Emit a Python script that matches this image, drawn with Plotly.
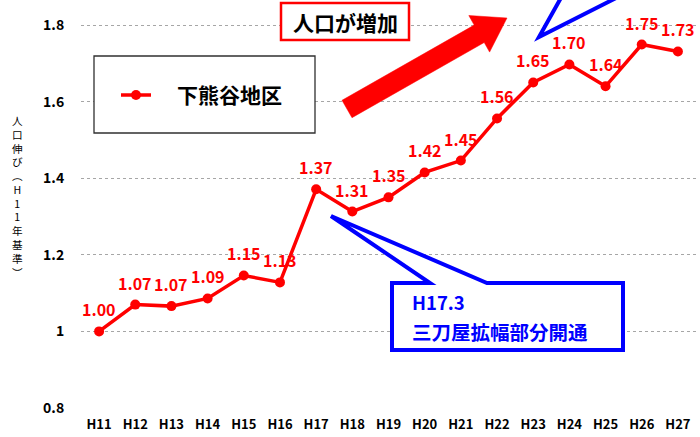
import plotly.graph_objects as go

years = ["H11", "H12", "H13", "H14", "H15", "H16", "H17", "H18", "H19",
         "H20", "H21", "H22", "H23", "H24", "H25", "H26", "H27"]
values = [1.000, 1.070, 1.066, 1.086, 1.146, 1.128, 1.371, 1.313, 1.350,
          1.415, 1.446, 1.556, 1.650, 1.697, 1.640, 1.749, 1.731]
series_name = "下熊谷地区"
y_ticks = [0.8, 1.0, 1.2, 1.4, 1.6, 1.8]
y_ticktext = ["0.8", "1", "1.2", "1.4", "1.6", "1.8"]
y_title_chars = ["人", "口", "伸", "び", "︵", "H", "1", "1", "年", "基", "準", "︶"]
callout_top = "人口が増加"
callout_lines = ["H17.3", "三刀屋拡幅部分開通"]

W, H = 700, 437
ML, MR, MT, MB = 81, 4, 0, 29
PW, PH = W - ML - MR, H - MT - MB

def X(px):
    return (px - ML) / PW

def Y(py):
    return (MT + PH - py) / PH

def path(points, close=True):
    s = "M " + " L ".join(f"{X(a):.5f},{Y(b):.5f}" for a, b in points)
    return s + (" Z" if close else "")

FONT = "Noto Sans CJK JP, sans-serif"
RED = "#FF0000"
BLUE = "#0000FF"

fig = go.Figure()
fig.add_trace(go.Scatter(
    x=years, y=values, mode="lines+markers", name=series_name,
    line=dict(color=RED, width=3.5),
    marker=dict(color=RED, size=10),
    showlegend=False, cliponaxis=False, hoverinfo="skip",
))

annotations = []
for yr, v in zip(years, values):
    annotations.append(dict(
        x=yr, y=v, xref="x", yref="y", text=f"{v:.2f}", showarrow=False,
        yshift=22, font=dict(family=FONT, size=16, color=RED, weight="bold"),
    ))

# vertical y-axis title (upright characters stacked)
annotations.append(dict(
    x=X(17), y=Y(197), xref="paper", yref="paper", text="<br>".join(y_title_chars),
    showarrow=False, xanchor="center", yanchor="middle", align="center",
    font=dict(family=FONT, size=10.6, color="#000000"),
))

shapes = []
# legend box
shapes.append(dict(type="rect", xref="paper", yref="paper",
                   x0=X(94), x1=X(315), y0=Y(133), y1=Y(56),
                   line=dict(color="#303030", width=1.3), fillcolor="white", layer="above"))
shapes.append(dict(type="line", xref="paper", yref="paper",
                   x0=X(121), x1=X(151), y0=Y(95), y1=Y(95),
                   line=dict(color=RED, width=3.5), layer="above"))
shapes.append(dict(type="circle", xref="paper", yref="paper",
                   x0=X(131), x1=X(141), y0=Y(100), y1=Y(90),
                   line=dict(color=RED, width=0), fillcolor=RED, layer="above"))
annotations.append(dict(
    x=X(175), y=Y(94), xref="paper", yref="paper", text=series_name, showarrow=False,
    xanchor="left", yanchor="middle",
    font=dict(family=FONT, size=21, color="#000000", weight="bold"),
))

# red framed label
shapes.append(dict(type="rect", xref="paper", yref="paper",
                   x0=X(281), x1=X(409), y0=Y(40), y1=Y(3),
                   line=dict(color=RED, width=2.5), fillcolor="white", layer="above"))
annotations.append(dict(
    x=X(345), y=Y(22), xref="paper", yref="paper", text=callout_top, showarrow=False,
    xanchor="center", yanchor="middle",
    font=dict(family=FONT, size=21, color="#000000", weight="bold"),
))

# big red arrow
arrow_pts = [(342, 100.3), (474.2, 25.1), (468.8, 15.5), (507, 18),
             (489.6, 52.1), (484.2, 42.5), (352, 117.7)]
shapes.append(dict(type="path", xref="paper", yref="paper", path=path(arrow_pts),
                   line=dict(color=RED, width=0.5), fillcolor=RED, layer="above"))

# top blue callout pointer (box out of view)
shapes.append(dict(type="path", xref="paper", yref="paper",
                   path=path([(562, -4), (539, 37), (620, -4)], close=False),
                   line=dict(color=BLUE, width=4), fillcolor="white", layer="above"))

# lower blue callout
callout_pts = [(430, 283), (392, 283), (392, 350), (623, 350), (623, 283),
               (487, 283), (331, 216)]
shapes.append(dict(type="path", xref="paper", yref="paper", path=path(callout_pts),
                   line=dict(color=BLUE, width=4), fillcolor="white", layer="above"))
annotations.append(dict(
    x=X(411), y=Y(302), xref="paper", yref="paper", text=callout_lines[0],
    showarrow=False, xanchor="left", yanchor="middle", borderpad=0,
    font=dict(family=FONT, size=18.5, color=BLUE, weight="bold"),
))
annotations.append(dict(
    x=X(411), y=Y(331.5), xref="paper", yref="paper", text=callout_lines[1],
    showarrow=False, xanchor="left", yanchor="middle", borderpad=0,
    font=dict(family=FONT, size=19.5, color=BLUE, weight="bold"),
))

fig.update_layout(
    width=W, height=H,
    margin=dict(l=ML, r=MR, t=MT, b=MB),
    paper_bgcolor="white", plot_bgcolor="white",
    font=dict(family=FONT, color="#000000"),
    annotations=annotations, shapes=shapes,
    hovermode=False,
    xaxis=dict(type="category", range=[-0.5, 16.5], showgrid=False, showline=False,
               zeroline=False, ticks="outside", ticklen=4, tickcolor="rgba(0,0,0,0)",
               tickfont=dict(family=FONT, size=13, color="#000000", weight="bold")),
    yaxis=dict(range=[0.8, 0.8 + PH / 383.0], tickvals=y_ticks, ticktext=y_ticktext,
               showgrid=True, gridcolor="#A6A6A6", gridwidth=1, griddash="dot",
               zeroline=False, showline=False, ticks="outside", ticklen=13,
               tickcolor="rgba(0,0,0,0)",
               tickfont=dict(family=FONT, size=14, color="#000000", weight="bold")),
)

fig.write_html("out.html", config={"displayModeBar": False},
               post_script="document.body.style.margin='0px';document.body.style.padding='0px';")
